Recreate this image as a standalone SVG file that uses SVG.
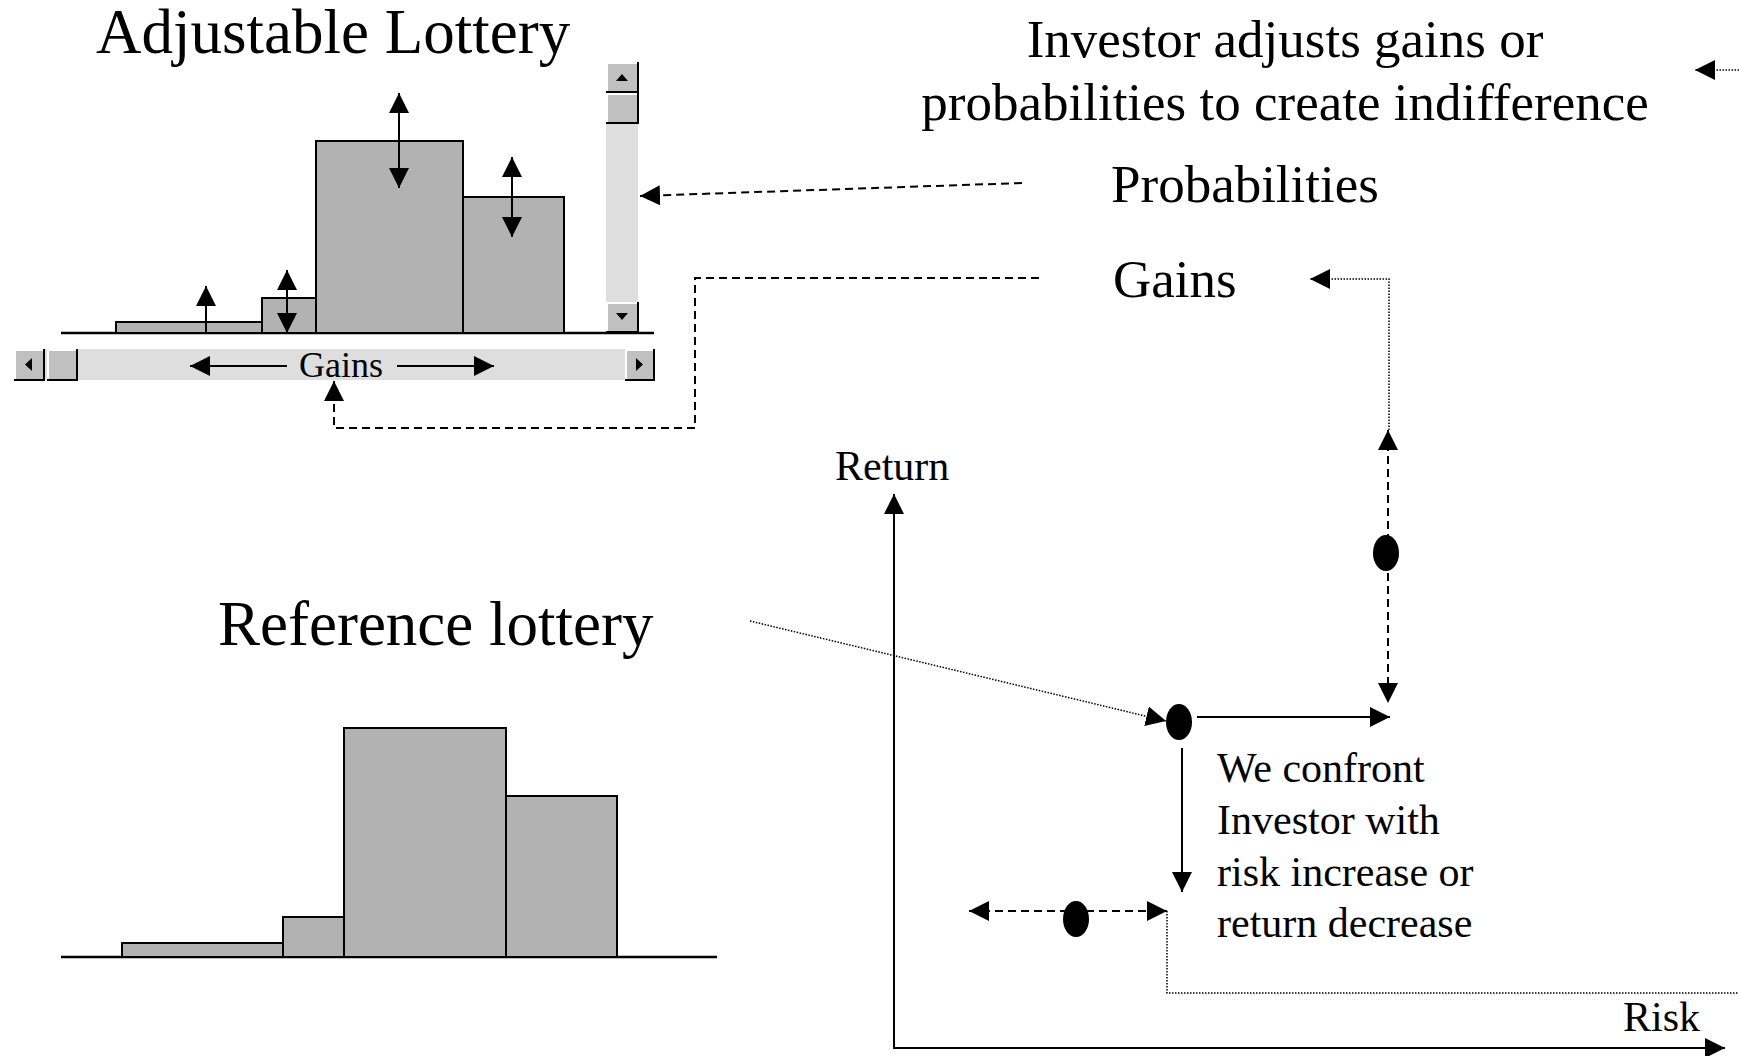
<svg xmlns="http://www.w3.org/2000/svg" width="1739" height="1056" viewBox="0 0 1739 1056">
<style>
text{font-family:"Liberation Serif","Times New Roman",serif;fill:#000}
.t63{font-size:63px}
.t53{font-size:53px}
.t42{font-size:42px}
.t36{font-size:36px}
.bar{fill:#b2b2b2;stroke:#000;stroke-width:2}
.base{stroke:#000;stroke-width:2.5;fill:none}
.track{fill:#dedede}
.btn{fill:#c0c0c0}
.hl{stroke:#fff;stroke-width:2;fill:none}
.sh{stroke:#000;stroke-width:2;fill:none}
.solid{stroke:#000;stroke-width:2;fill:none}
.dash{stroke:#000;stroke-width:2;fill:none;stroke-dasharray:8 5}
.dot{stroke:#000;stroke-width:1.5;fill:none;stroke-dasharray:1.5 1.5}
.pt{fill:#000}
</style>
<defs>
<marker id="ah" viewBox="0 0 20 20" refX="20" refY="10" markerWidth="20" markerHeight="20" markerUnits="userSpaceOnUse" orient="auto-start-reverse">
<path d="M0,0 L20,10 L0,20 z" fill="#000"/>
</marker>
</defs>
<rect width="1739" height="1056" fill="#fff"/>

<g id="adjustable-title"><text class="t63" x="96" y="53">Adjustable Lottery</text></g>

<g id="adjustable-lottery">
<line class="base" x1="61" y1="333" x2="654" y2="333"/>
<rect class="bar" x="116" y="322" width="146" height="11"/>
<rect class="bar" x="262" y="298" width="54" height="35"/>
<rect class="bar" x="316" y="141" width="147" height="192"/>
<rect class="bar" x="463" y="197" width="101" height="136"/>
<line class="solid" x1="206" y1="333" x2="206" y2="286" marker-end="url(#ah)"/>
<line class="solid" x1="287" y1="270" x2="287" y2="333" marker-start="url(#ah)" marker-end="url(#ah)"/>
<line class="solid" x1="399" y1="93" x2="399" y2="188" marker-start="url(#ah)" marker-end="url(#ah)"/>
<line class="solid" x1="512" y1="157" x2="512" y2="237" marker-start="url(#ah)" marker-end="url(#ah)"/>
</g>

<g id="probability-scrollbar">
<rect class="track" x="606" y="62" width="32" height="270"/>
<rect class="btn" x="606" y="62" width="32" height="30"/>
<polyline class="hl" points="607,91 607,63 637,63"/>
<polyline class="sh" points="606,92 638,92 638,62"/>
<path d="M616,81 L622,74 L628,81 z" fill="#000"/>
<rect class="btn" x="606" y="93" width="32" height="30"/>
<polyline class="hl" points="607,122 607,94 637,94"/>
<polyline class="sh" points="606,123 638,123 638,93"/>
<rect class="btn" x="606" y="302" width="32" height="30"/>
<polyline class="hl" points="607,331 607,303 637,303"/>
<polyline class="sh" points="606,332 638,332 638,302"/>
<path d="M616,313 L628,313 L622,320 z" fill="#000"/>
</g>

<g id="gains-scrollbar">
<rect class="track" x="14" y="349" width="640" height="31"/>
<rect class="btn" x="14" y="349" width="30" height="31"/>
<polyline class="hl" points="15,379 15,350 43,350"/>
<polyline class="sh" points="14,380 44,380 44,349"/>
<path d="M32,358 L25,364.5 L32,371 z" fill="#000"/>
<rect class="btn" x="47" y="349" width="30" height="31"/>
<polyline class="hl" points="48,379 48,350 76,350"/>
<polyline class="sh" points="47,380 77,380 77,349"/>
<rect class="btn" x="625" y="349" width="29" height="31"/>
<polyline class="hl" points="626,379 626,350 653,350"/>
<polyline class="sh" points="625,380 654,380 654,349"/>
<path d="M636,358 L643,364.5 L636,371 z" fill="#000"/>
<text class="t36" x="341" y="377" text-anchor="middle">Gains</text>
<line class="solid" x1="287" y1="366" x2="190" y2="366" marker-end="url(#ah)"/>
<line class="solid" x1="397" y1="366" x2="494" y2="366" marker-end="url(#ah)"/>
</g>

<g id="instruction"><text class="t53" x="1285" y="57" text-anchor="middle">Investor adjusts gains or</text>
<text class="t53" x="1285" y="120" text-anchor="middle">probabilities to create indifference</text></g>
<g id="probabilities-label"><text class="t53" x="1111" y="202">Probabilities</text></g>
<g id="gains-label"><text class="t53" x="1113" y="297">Gains</text></g>

<g id="reference-title"><text class="t63" x="218" y="645">Reference lottery</text></g>
<g id="reference-lottery">
<line class="base" x1="61" y1="957" x2="717" y2="957"/>
<rect class="bar" x="122" y="943" width="161" height="14"/>
<rect class="bar" x="283" y="917" width="61" height="40"/>
<rect class="bar" x="344" y="728" width="162" height="229"/>
<rect class="bar" x="506" y="796" width="111" height="161"/>
</g>

<g id="axes">
<line class="solid" x1="894" y1="1048" x2="894" y2="494" marker-end="url(#ah)"/>
<line class="solid" x1="893" y1="1048" x2="1725" y2="1048" marker-end="url(#ah)"/>
<text class="t42" x="835" y="480">Return</text>
<text class="t42" x="1623" y="1031">Risk</text>
</g>

<g id="point-reference"><ellipse class="pt" cx="1179" cy="722" rx="13" ry="18"/></g>
<g id="point-return"><ellipse class="pt" cx="1386" cy="553" rx="13" ry="18"/></g>
<g id="point-risk"><ellipse class="pt" cx="1076" cy="919" rx="13" ry="18"/></g>

<g id="confront-text">
<text class="t42" x="1217" y="782">We confront</text>
<text class="t42" x="1217" y="834">Investor with</text>
<text class="t42" x="1217" y="886">risk increase or</text>
<text class="t42" x="1217" y="937">return decrease</text>
</g>

<g id="connectors">
<line class="dash" x1="1022" y1="183" x2="640" y2="196" marker-end="url(#ah)"/>
<polyline class="dash" points="1039,278 695,278 695,428 334,428 334,381" marker-end="url(#ah)"/>
<polyline class="dot" points="1389,430 1389,279 1310,279" marker-end="url(#ah)"/>
<line class="dot" x1="1739" y1="70" x2="1695" y2="70" marker-end="url(#ah)"/>
<line class="dot" x1="750" y1="621" x2="1166" y2="721" marker-end="url(#ah)"/>
<line class="solid" x1="1197" y1="717" x2="1390" y2="717" marker-end="url(#ah)"/>
<line class="solid" x1="1182" y1="748" x2="1182" y2="892" marker-end="url(#ah)"/>
<line class="dash" x1="1388" y1="430" x2="1388" y2="703" marker-start="url(#ah)" marker-end="url(#ah)"/>
<line class="dash" x1="969" y1="911" x2="1167" y2="911" marker-start="url(#ah)" marker-end="url(#ah)"/>
<polyline class="dot" points="1167,911 1167,993 1739,993"/>
</g>
</svg>
